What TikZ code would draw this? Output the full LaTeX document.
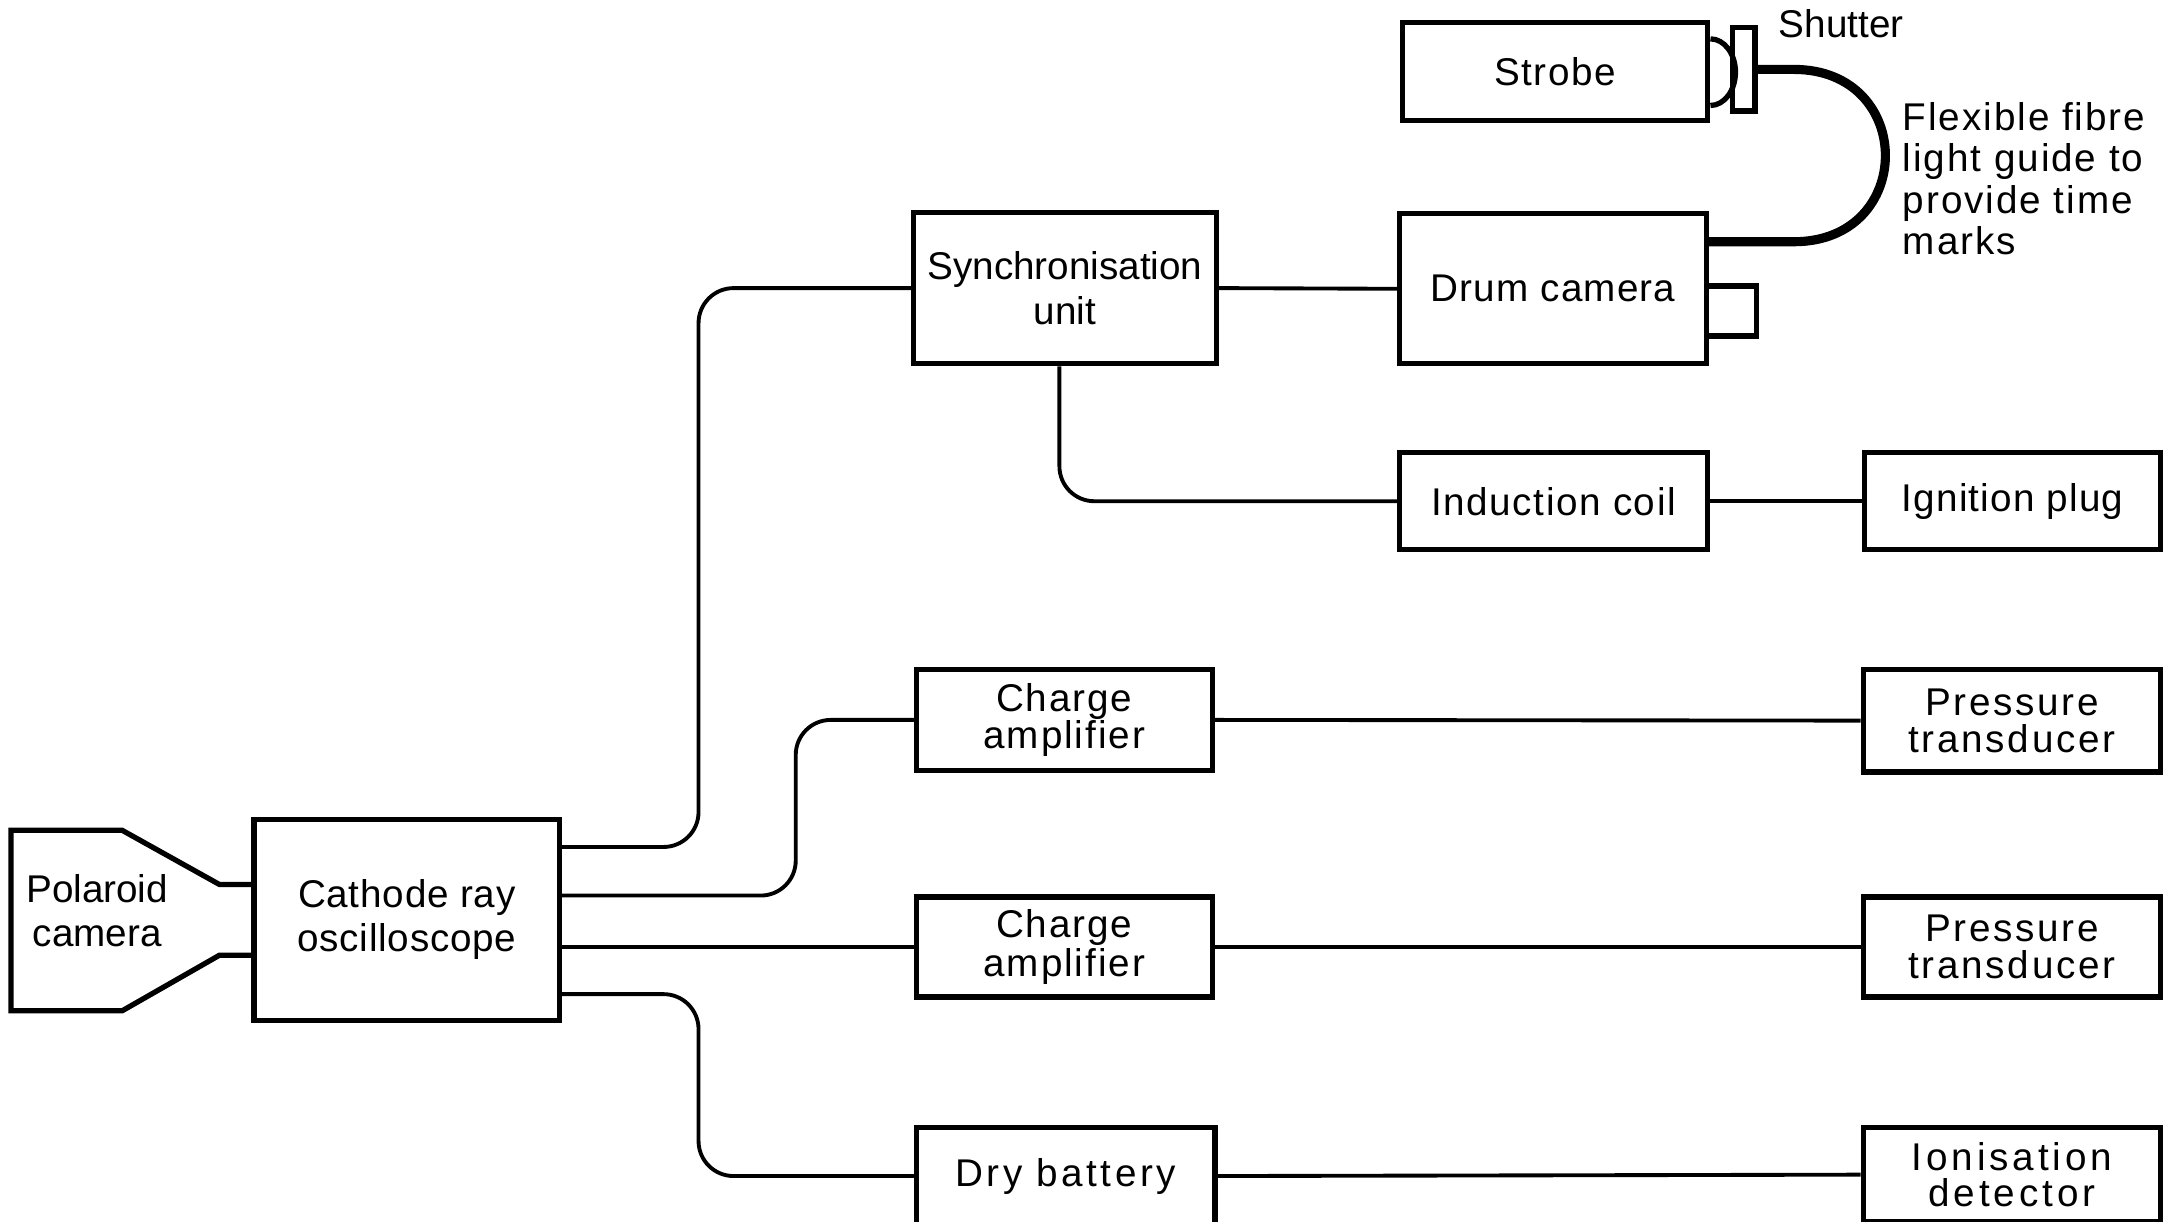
\documentclass[tikz,border=0pt]{standalone}
\usepackage{fontspec}
\setmainfont{Liberation Sans}
\usetikzlibrary{calc}
\newcommand{\pxu}{0.013885cm}
\begin{document}
\begin{tikzpicture}[x=\pxu, y=-\pxu,
  lbl/.style={font=\fontsize{11}{12.5}\selectfont},
  txt/.style 2 args={font=\fontsize{11}{#2}\selectfont\addfontfeature{LetterSpace=#1}},
  box/.style 2 args={draw, line width=1.5pt, minimum width=#1*\pxu, minimum height=#2*\pxu,
    inner sep=0pt, align=center, lbl},
  wire/.style={line width=1.1pt, rounded corners=0.35cm}]
  \useasboundingbox (0,0) rectangle (1560,880);

  \draw[line width=1.5pt] (183,637) -- (158,637) -- (88,598) -- (8,598) -- (8,728)
    -- (88,728) -- (158,688) -- (183,688);
  \node[lbl, align=center] (polaroid) at (70,656) {Polaroid\\camera};

  \node[box={220}{145}, txt={2}{12.5}] (cro) at (293,662.5) {Cathode ray\\oscilloscope};
  \node[box={218}{109}, txt={0}{13}] (sync) at (767,207.5) {Synchronisation\\unit};
  \node[box={221}{108}, txt={3}{12.5}] (drum) at (1118.5,208) {Drum camera};
  \node[box={220}{71}, txt={4}{12.5}] (strobe) at (1120,51.5) {Strobe};
  \node[box={16}{60}] (shutter) at (1256,50) {};
  \node[box={222}{70}, txt={4}{12.5}] (coil) at (1119,361) {Induction coil};
  \node[box={213}{70}, txt={3}{12.5}] (plug) at (1449.5,361) {Ignition plug};
  \node[box={213}{73}, txt={5}{10.3}] (amp1) at (766.5,518.5) {Charge\\amplifier};
  \node[box={214}{74}, txt={7}{10.5}] (pt1) at (1449,519) {Pressure\\transducer};
  \node[box={213}{72}, txt={5}{11.3}] (amp2) at (766.5,682) {Charge\\amplifier};
  \node[box={214}{72}, txt={7}{10.7}] (pt2) at (1449,682) {Pressure\\transducer};
  \node[box={215}{70}, txt={9}{12.5}] (battery) at (767.5,847) {Dry battery};
  \node[box={214}{68}, txt={10}{10}] (ion) at (1449,846) {Ionisation\\detector};

  \node[lbl] (shutterlabel) at (1326,17) {Shutter};
  \node[txt={5}{11.8}, align=left, anchor=north west, inner sep=0pt] (fibrelabel) at (1370,73)
    {Flexible fibre\\light guide to\\provide time\\marks};

  \draw[line width=1.5pt] ($(strobe.east)+(0,-23.5)$)
    arc[start angle=90, end angle=-90, x radius=0.25cm, y radius=0.333cm];
  \draw[line width=1.5pt] ($(drum.east)+(0,-2)$) -- ($(drum.east)+(34,-2)$)
    -- ($(drum.east)+(34,34)$) -- ($(drum.east)+(0,34)$);

  \coordinate (guide) at ($(drum.north east)+(0,22)$);
  \draw[line width=2.6pt] (shutter.east) -- ($(shutter.east)+(26,0)$)
    .. controls ($(shutter.east)+(114,0)$) and ($(guide)+(149,0)$) .. ($(guide)+(61,0)$)
    -- (guide);

  \draw[wire] ($(cro.east)+(0,-52.5)$) -| ($(sync.west)+(-153,0)$) -- (sync.west);
  \draw[wire] ($(cro.east)+(0,-17.5)$) -| ($(amp1.west)+(-85,0)$) -- (amp1.west);
  \draw[wire] (cro.east |- amp2.west) -- (amp2.west);
  \draw[wire] ($(cro.east)+(0,53.5)$) -| ($(battery.west)+(-155,0)$) -- (battery.west);
  \draw[wire] (sync.east) -- (drum.west);
  \draw[wire] ($(sync.south)+(-4,0)$) |- (coil.west);
  \draw[wire] (coil.east) -- (plug.west);
  \draw[wire] (amp1.east) -- (pt1.west);
  \draw[wire] (amp2.east) -- (pt2.west);
  \draw[wire] (battery.east) -- (ion.west);
\end{tikzpicture}
\end{document}
